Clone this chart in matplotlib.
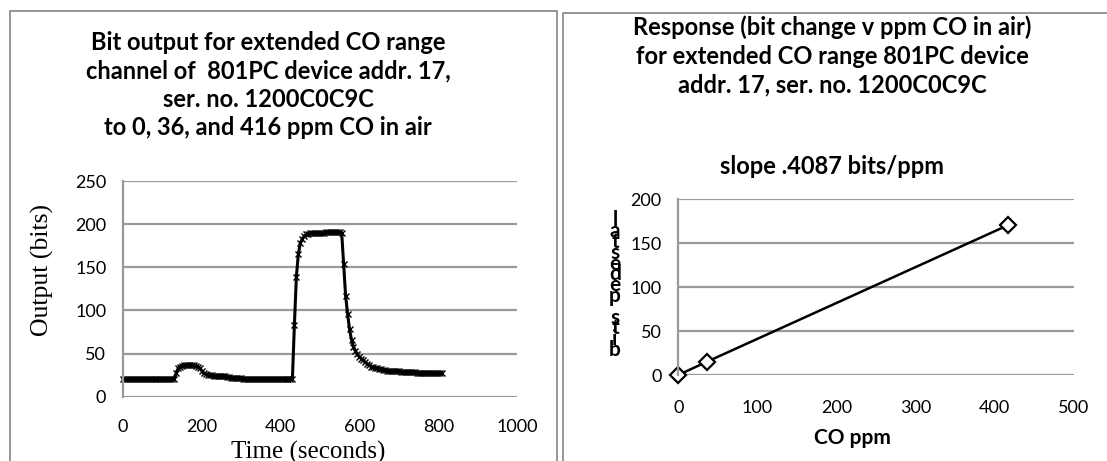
import numpy as np
import matplotlib
matplotlib.use("Agg")
import matplotlib.pyplot as plt
from matplotlib.lines import Line2D

W, H = 1107, 461

# ---------------- data ----------------
sample_interval_s = 5
output_bits = (
    [21] * 27 +
    [27, 33, 35, 36, 37, 37, 37, 37, 37, 37, 36, 35, 33, 30, 27, 26, 25] +
    [25, 25, 24, 24, 24, 24, 24, 24, 24, 23, 23] +
    [22] * 6 + [21] * 26 +
    [83, 139, 165, 178, 183, 186, 188, 189] + [190] * 8 + [191] * 7 + [191, 190] +
    [154, 117, 96, 78, 66, 58, 53, 49, 46, 44, 42, 40, 38, 37, 35, 34, 33, 33,
     32, 32, 31, 31, 30] +
    [30] * 6 + [29] * 8 + [28] * 8 + [27] * 6
)
time_s = np.arange(len(output_bits)) * sample_interval_s

co_ppm = [0, 36, 416]
bit_change = [0, 15, 170]

left_xticks = [0, 200, 400, 600, 800, 1000]
left_yticks = [0, 50, 100, 150, 200, 250]
right_xticks = [0, 100, 200, 300, 400, 500]
right_yticks = [0, 50, 100, 150, 200]

left_title = ["Bit output for extended CO range",
              "channel of  801PC device addr. 17,",
              "ser. no. 1200C0C9C",
              "to 0, 36, and 416 ppm CO in air"]
right_title = ["Response (bit change v ppm CO in air)",
               "for extended CO range 801PC device",
               "addr. 17, ser. no. 1200C0C9C"]
right_subtitle = "slope .4087 bits/ppm"
right_ylabel = "bits pedestal"

# ---------------- style ----------------
SANS = "Lato"
SERIF = "Liberation Serif"
GRID = "#9a9a9a"
BORDER = "#8c8c8c"
TITLE_FS = 17

def fx(x):
    return x / W

def fy(y):
    return 1 - y / H

fig = plt.figure(figsize=(W / 100, H / 100), dpi=100)

# panel borders
fig.add_artist(Line2D([fx(10), fx(10), fx(557.5), fx(557.5)],
                      [fy(470), fy(11), fy(11), fy(470)],
                      transform=fig.transFigure, color=BORDER, lw=1.3))
fig.add_artist(Line2D([fx(563), fx(563), fx(1120)],
                      [fy(470), fy(13), fy(13)],
                      transform=fig.transFigure, color=BORDER, lw=1.3))

def style_axes(ax, xticks, yticks, xpad, ypad):
    ax.set_xticks(xticks)
    ax.set_yticks(yticks)
    ax.set_xlim(xticks[0], xticks[-1])
    ax.set_ylim(yticks[0], yticks[-1])
    for s in ["top", "right", "bottom"]:
        ax.spines[s].set_visible(False)
    ax.spines["left"].set_color(GRID)
    ax.spines["left"].set_linewidth(1.6)
    ax.grid(axis="y", color=GRID, lw=1.6)
    ax.set_axisbelow(True)
    ax.tick_params(axis="both", length=0, labelsize=13, colors="black")
    ax.tick_params(axis="x", pad=xpad)
    ax.tick_params(axis="y", pad=ypad)
    for lab in ax.get_xticklabels() + ax.get_yticklabels():
        lab.set_fontfamily(SANS)

# ---------------- left chart ----------------
axL = fig.add_axes([fx(123), fy(396.7), (517 - 123) / W, (396.7 - 181) / H])
style_axes(axL, left_xticks, left_yticks, xpad=16, ypad=12)
axL.plot(time_s, output_bits, color="black", lw=2.2, marker="x",
         ms=4, mew=1.0, clip_on=False)
for i, line in enumerate(left_title):
    fig.text(fx(268), fy(50 + i * 28.3), line, ha="center", va="baseline",
             fontfamily=SANS, fontweight="bold", fontsize=TITLE_FS)
fig.text(fx(42), fy(270), "Output (bits)", rotation=90, ha="center",
         va="center", fontfamily=SERIF, fontsize=18.5)
fig.text(fx(308), fy(459), "Time (seconds)", ha="center", va="baseline",
         fontfamily=SERIF, fontsize=18)

# ---------------- right chart ----------------
axR = fig.add_axes([fx(678.3), fy(375), (1074 - 678.3) / W, (375 - 199) / H])
style_axes(axR, right_xticks, right_yticks, xpad=18, ypad=12)
axR.plot(co_ppm, bit_change, color="black", lw=1.8, marker="D", ms=8.5,
         mfc="white", mec="black", mew=1.6, clip_on=False)
for i, line in enumerate(right_title):
    fig.text(fx(832), fy(35 + i * 28.5), line, ha="center", va="baseline",
             fontfamily=SANS, fontweight="bold", fontsize=TITLE_FS)
fig.text(fx(832), fy(174), right_subtitle, ha="center", va="baseline",
         fontfamily=SANS, fontweight="bold", fontsize=TITLE_FS)
fig.text(fx(852), fy(438), "CO ppm", ha="center", va="center",
         fontfamily=SANS, fontweight="bold", fontsize=15)
# stacked (garbled) vertical axis title, drawn bottom-to-top
for i, ch in enumerate(right_ylabel):
    fig.text(fx(615), fy(356 - i * 10.8), ch, ha="center", va="baseline",
             fontfamily=SANS, fontweight="bold", fontsize=15)

fig.savefig("out.png", dpi=100, facecolor="white")
